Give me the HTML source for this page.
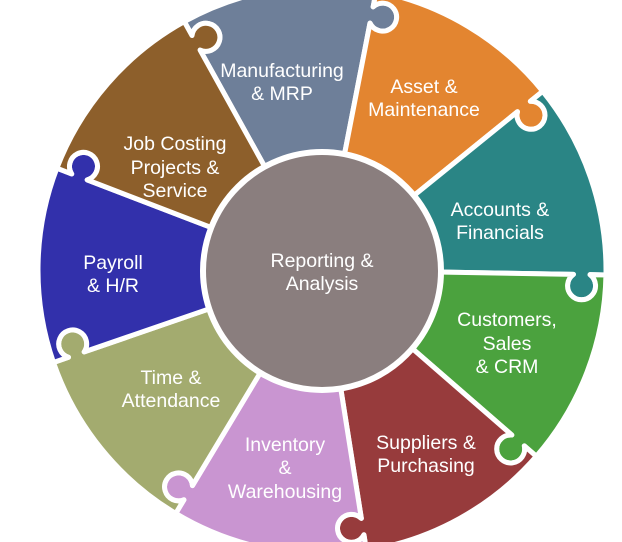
<!DOCTYPE html>
<html><head><meta charset="utf-8"><style>
html,body{margin:0;padding:0;background:#fff;}
svg{display:block;}
text{font-family:"Liberation Sans",sans-serif;font-size:19.5px;fill:#fff;text-anchor:middle;}
</style></head><body>
<svg id="s" width="622" height="542" viewBox="0 0 622 542" xmlns="http://www.w3.org/2000/svg">
<g id="segs"></g>
<circle cx="322" cy="271" r="119" fill="#8a7e7e" stroke="#fff" stroke-width="6"/>
<text x="282" y="77">Manufacturing</text><text x="282" y="100">&amp; MRP</text>
<text x="424" y="93">Asset &amp;</text><text x="424" y="116">Maintenance</text>
<text x="500" y="216">Accounts &amp;</text><text x="500" y="239">Financials</text>
<text x="507" y="326">Customers,</text><text x="507" y="350">Sales</text><text x="507" y="373">&amp; CRM</text>
<text x="426" y="449">Suppliers &amp;</text><text x="426" y="472">Purchasing</text>
<text x="285" y="451">Inventory</text><text x="285" y="474">&amp;</text><text x="285" y="498">Warehousing</text>
<text x="171" y="384">Time &amp;</text><text x="171" y="407">Attendance</text>
<text x="113" y="269">Payroll</text><text x="113" y="292">&amp; H/R</text>
<text x="175" y="150">Job Costing</text><text x="175" y="174">Projects &amp;</text><text x="175" y="197">Service</text>
<text x="322" y="267">Reporting &amp;</text><text x="322" y="290">Analysis</text>
</svg>
<script>
(function(){
var cx=322,cy=270,R0=284,rin=100,u1=251.5,u2=268.1,k=14;
var cols=["#6e7f99","#e38530","#2a8585","#4ba23e","#973b3c","#c995d1","#a3ab6f","#3230ab","#8d5f2b"];
function P(t,r){var a=t*Math.PI/180;return (cx+r*Math.sin(a)).toFixed(2)+" "+(cy-r*Math.cos(a)).toFixed(2);}
var g=document.getElementById("segs"),h="";
for(var i=0;i<9;i++){
 var a=-29+40*i,b=a+40;
 var d="M"+P(a,rin)+" L"+P(a,u1)+" A"+k+" "+k+" 0 1 0 "+P(a,u2)+" L"+P(a,R0)+
 " A"+R0+" "+R0+" 0 0 1 "+P(b,R0)+" L"+P(b,u2)+" A"+k+" "+k+" 0 1 1 "+P(b,u1)+
 " L"+P(b,rin)+" A"+rin+" "+rin+" 0 0 0 "+P(a,rin)+" Z";
 h+='<path d="'+d+'" fill="'+cols[i]+'" stroke="#fff" stroke-width="5" stroke-linejoin="round"/>';
}
g.innerHTML=h;
})();
</script>
</body></html>
